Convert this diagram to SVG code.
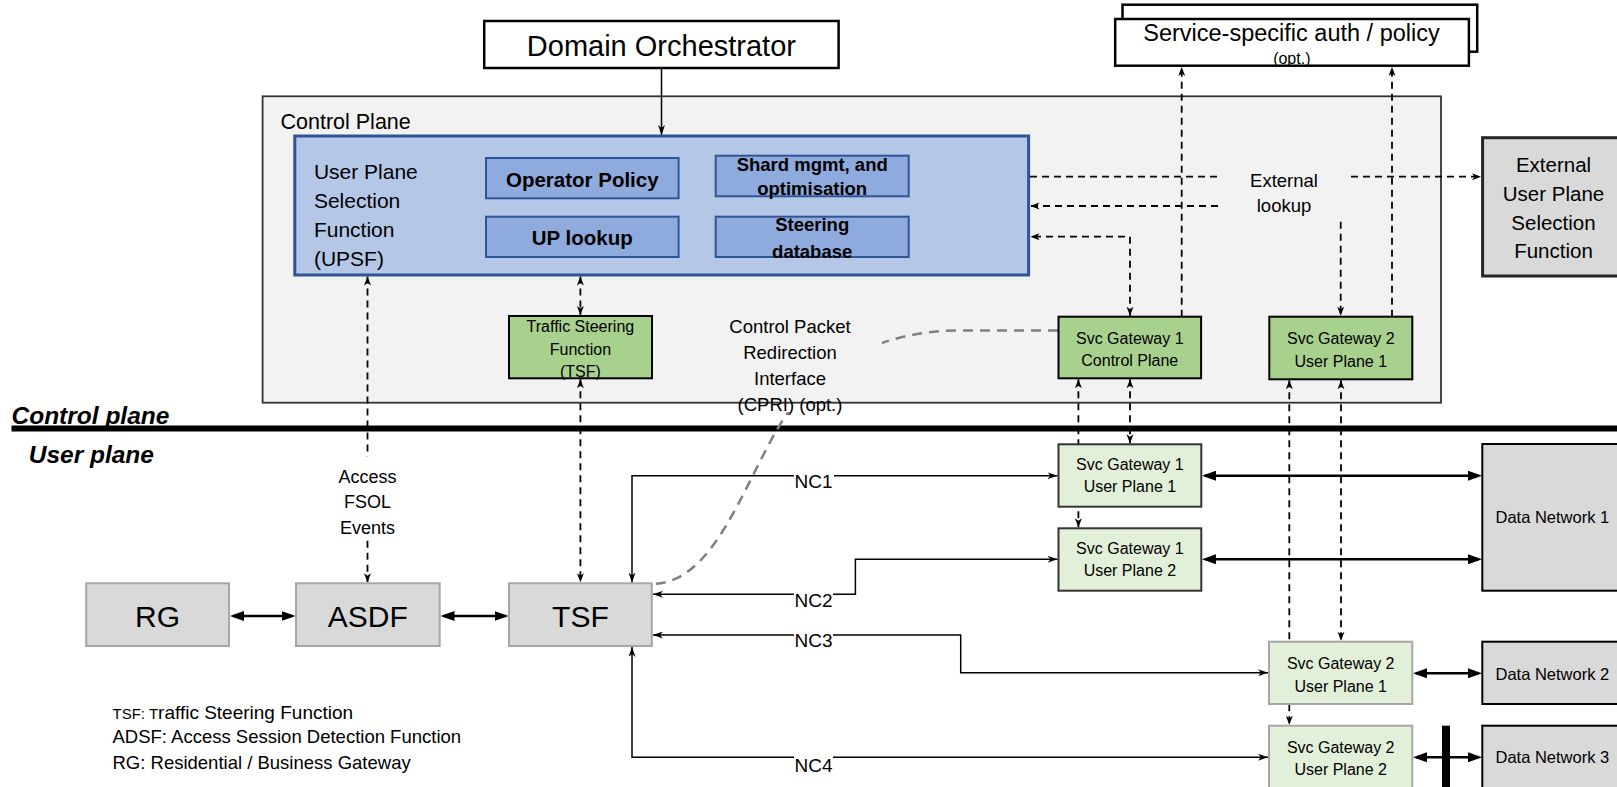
<svg xmlns="http://www.w3.org/2000/svg" width="1617" height="787" viewBox="0 0 1617 787">
  <defs>
    <style>
      text { font-family: "Liberation Sans", Arial, sans-serif; fill: #000; }
      .c { text-anchor: middle; }
      .b { font-weight: bold; }
      .bi { font-weight: bold; font-style: italic; }
      .cpbox { fill: #f2f2f2; stroke: #333; stroke-width: 1.8; }
      .upsf { fill: #b4c7e7; stroke: #2f5597; stroke-width: 3; }
      .mod { fill: #8faadc; stroke: #2f5597; stroke-width: 2; }
      .gcp { fill: #a9d18e; stroke: #000; stroke-width: 2; }
      .gup { fill: #e2f0d9; stroke: #333; stroke-width: 2; }
      .gup2 { fill: #e2f0d9; stroke: #a6a6a6; stroke-width: 2; }
      .grey { fill: #d9d9d9; stroke: #a6a6a6; stroke-width: 2; }
      .dn { fill: #d9d9d9; stroke: #000; stroke-width: 2; }
      .ext { fill: #d9d9d9; stroke: #262626; stroke-width: 3; }
      .wbox { fill: #fff; stroke: #000; stroke-width: 2.5; }
      .dash { fill: none; stroke: #000; stroke-width: 1.8; stroke-dasharray: 7 5; }
      .thin { fill: none; stroke: #000; stroke-width: 1.5; }
      .thick { fill: none; stroke: #000; stroke-width: 2.5; }
      .cpri { fill: none; stroke: #808080; stroke-width: 2.5; stroke-dasharray: 10 7; }
      .gw { font-size: 16px; }
      .lbl { font-size: 18.5px; }
      .nc { font-size: 19px; }
      .bg { fill: #fff; }
    </style>
    <marker id="mDash" viewBox="0 0 9 8" refX="9" refY="4" markerWidth="9" markerHeight="8" markerUnits="userSpaceOnUse" orient="auto-start-reverse">
      <path d="M0,0.5 L9,4 L0,7.5 L2.5,4 z" fill="#000"/>
    </marker>
    <marker id="mThin" viewBox="0 0 10 7" refX="10" refY="3.5" markerWidth="10" markerHeight="7" markerUnits="userSpaceOnUse" orient="auto-start-reverse">
      <path d="M0,0 L10,3.5 L0,7 L3,3.5 z" fill="#000"/>
    </marker>
    <marker id="mThick" viewBox="0 0 14 10" refX="11" refY="5" markerWidth="14" markerHeight="10" markerUnits="userSpaceOnUse" orient="auto-start-reverse">
      <path d="M0,0 L14,5 L0,10 z" fill="#000"/>
    </marker>
    <!-- hides the CPRI curve where it runs under its own label -->
    <mask id="cpriGap" maskUnits="userSpaceOnUse" x="0" y="0" width="1617" height="787">
      <rect x="0" y="0" width="1617" height="787" fill="#fff"/>
      <rect x="690" y="300" width="192" height="112" fill="#000"/>
    </mask>
  </defs>

  <rect x="0" y="0" width="1617" height="787" fill="#fff"/>

  <!-- control plane container -->
  <g id="control-plane">
    <rect class="cpbox" x="262.6" y="96.3" width="1178.4" height="306.4"/>
    <text x="280.5" y="129.3" font-size="21.5">Control Plane</text>
  </g>

  <!-- control / user plane divider -->
  <g id="plane-divider">
    <text class="bi" x="11.5" y="424" font-size="24.5">Control plane</text>
    <rect x="11.5" y="425.5" width="1605.5" height="6" fill="#000"/>
    <text class="bi" x="28.7" y="463.3" font-size="24.5">User plane</text>
  </g>

  <g id="connectors">
    <!-- orchestrator to UPSF -->
    <path class="thin" d="M661.5 68 V135" marker-end="url(#mThin)"/>
    <!-- optional service auth / policy -->
    <path class="dash" d="M1181.7 316.7 V67" marker-end="url(#mDash)"/>
    <path class="dash" d="M1392 316.7 V67" marker-end="url(#mDash)"/>
    <!-- external lookup -->
    <path class="dash" d="M1030 176.7 H1218"/>
    <path class="dash" d="M1351 176.7 H1481" marker-end="url(#mDash)"/>
    <path class="dash" d="M1218 206 H1030.5" marker-end="url(#mDash)"/>
    <path class="dash" d="M1130 315.7 V236.7 H1030.5" marker-start="url(#mDash)" marker-end="url(#mDash)"/>
    <path class="dash" d="M1340.7 221.7 V315.7" marker-end="url(#mDash)"/>
    <text class="c lbl" x="1284" y="186.7">External</text>
    <text class="c lbl" x="1284" y="211.7">lookup</text>
    <!-- UPSF to TSF (control) -->
    <path class="dash" d="M580.4 276.5 V315" marker-start="url(#mDash)" marker-end="url(#mDash)"/>
    <!-- TSF (control) to TSF (user) -->
    <path class="dash" d="M580.4 379.3 V582.3" marker-start="url(#mDash)" marker-end="url(#mDash)"/>
    <!-- UPSF to ASDF, access FSOL events -->
    <path class="dash" d="M367.5 276.5 V456.7" marker-start="url(#mDash)"/>
    <path class="dash" d="M367.5 540.7 V582.3" marker-end="url(#mDash)"/>
    <text class="c" x="367.5" y="483.3" font-size="18">Access</text>
    <text class="c" x="367.5" y="508.3" font-size="18">FSOL</text>
    <text class="c" x="367.5" y="534.3" font-size="18">Events</text>
    <!-- gateway 1 control to user planes -->
    <path class="dash" d="M1078.4 379.3 V527.3" marker-start="url(#mDash)" marker-end="url(#mDash)"/>
    <path class="dash" d="M1130 379.3 V443.3" marker-start="url(#mDash)" marker-end="url(#mDash)"/>
    <!-- gateway 2 control to user planes -->
    <path class="dash" d="M1289.3 380.3 V724.7" marker-start="url(#mDash)" marker-end="url(#mDash)"/>
    <path class="dash" d="M1341 380.3 V640.7" marker-start="url(#mDash)" marker-end="url(#mDash)"/>
    <!-- CPRI (optional) -->
    <path class="cpri" mask="url(#cpriGap)" d="M1058 330.5 L960 330.5 C880 330.5 815 365 778 428 S712 584 652 584"/>
    <text class="c lbl" x="790" y="333.3">Control Packet</text>
    <text class="c lbl" x="790" y="359">Redirection</text>
    <text class="c lbl" x="790" y="385">Interface</text>
    <text class="c lbl" x="790" y="410.7">(CPRI) (opt.)</text>
    <!-- network connections NC1..NC4 -->
    <path class="thin" d="M1057.5 475.7 H632 V582.5" marker-start="url(#mThin)" marker-end="url(#mThin)"/>
    <path class="thin" d="M1057.5 559.3 H855.4 V594.3 H653" marker-start="url(#mThin)" marker-end="url(#mThin)"/>
    <path class="thin" d="M653 635 H960.7 V672.7 H1268" marker-start="url(#mThin)" marker-end="url(#mThin)"/>
    <path class="thin" d="M632 647 V757.3 H1268" marker-start="url(#mThin)" marker-end="url(#mThin)"/>
    <rect class="bg" x="794" y="472" width="40" height="20"/>
    <text class="c nc" x="813.5" y="488.3">NC1</text>
    <rect class="bg" x="794" y="589" width="39" height="21"/>
    <text class="c nc" x="813.5" y="606.7">NC2</text>
    <rect class="bg" x="794" y="630" width="39" height="20"/>
    <text class="c nc" x="813.5" y="646.7">NC3</text>
    <rect class="bg" x="794" y="752" width="39" height="22"/>
    <text class="c nc" x="813.5" y="771.7">NC4</text>
    <!-- access chain -->
    <path class="thick" d="M233 616 H292.5" marker-start="url(#mThick)" marker-end="url(#mThick)"/>
    <path class="thick" d="M443.5 616 H505.5" marker-start="url(#mThick)" marker-end="url(#mThick)"/>
    <!-- gateways to data networks -->
    <path class="thick" d="M1205 475.7 H1479" marker-start="url(#mThick)" marker-end="url(#mThick)"/>
    <path class="thick" d="M1205 559.3 H1479" marker-start="url(#mThick)" marker-end="url(#mThick)"/>
    <path class="thick" d="M1416 673.3 H1479" marker-start="url(#mThick)" marker-end="url(#mThick)"/>
    <path class="thick" d="M1416 757.3 H1479" marker-start="url(#mThick)" marker-end="url(#mThick)"/>
    <rect x="1442" y="725.7" width="8" height="62" fill="#000"/>
  </g>

  <g id="domain-orchestrator">
    <rect class="wbox" x="484.2" y="21" width="354.4" height="47"/>
    <text class="c" x="661.4" y="56" font-size="29">Domain Orchestrator</text>
  </g>

  <g id="service-auth-policy">
    <rect class="wbox" x="1122.5" y="4.7" width="354.7" height="47"/>
    <rect class="wbox" x="1115.2" y="19" width="353.7" height="46.7"/>
    <text class="c" x="1291.5" y="40.7" font-size="23.5">Service-specific auth / policy</text>
    <text class="c" x="1291.8" y="63.5" font-size="16">(opt.)</text>
  </g>

  <g id="upsf">
    <rect class="upsf" x="294.8" y="136" width="733.8" height="139"/>
    <text x="313.9" y="179.3" font-size="21">User Plane</text>
    <text x="313.9" y="208.3" font-size="21">Selection</text>
    <text x="313.9" y="236.7" font-size="21">Function</text>
    <text x="313.9" y="265.7" font-size="21">(UPSF)</text>
  </g>

  <g id="operator-policy">
    <rect class="mod" x="486" y="158" width="192.6" height="40.3"/>
    <text class="c b" x="582.3" y="187.3" font-size="20.5">Operator Policy</text>
  </g>

  <g id="up-lookup">
    <rect class="mod" x="486" y="216.7" width="192.6" height="40.3"/>
    <text class="c b" x="582.3" y="245" font-size="20.5">UP lookup</text>
  </g>

  <g id="shard-mgmt">
    <rect class="mod" x="715.7" y="155.7" width="193" height="40.6"/>
    <text class="c b" x="812.2" y="170.7" font-size="18.5">Shard mgmt, and</text>
    <text class="c b" x="812.2" y="195" font-size="18.5">optimisation</text>
  </g>

  <g id="steering-db">
    <rect class="mod" x="715.7" y="216.7" width="193" height="40.3"/>
    <text class="c b" x="812.2" y="231" font-size="18.5">Steering</text>
    <text class="c b" x="812.2" y="258.3" font-size="18.5">database</text>
  </g>

  <g id="external-upsf">
    <rect class="ext" x="1482.6" y="137.7" width="160" height="138.3"/>
    <text class="c" x="1553.5" y="172.3" font-size="20.5">External</text>
    <text class="c" x="1553.5" y="201" font-size="20.5">User Plane</text>
    <text class="c" x="1553.5" y="230" font-size="20.5">Selection</text>
    <text class="c" x="1553.5" y="258.3" font-size="20.5">Function</text>
  </g>

  <g id="tsf-control">
    <rect class="gcp" x="509" y="316" width="143" height="62.3"/>
    <text class="c gw" x="580.4" y="331.7">Traffic Steering</text>
    <text class="c gw" x="580.4" y="354.5">Function</text>
    <text class="c gw" x="580.4" y="376.5">(TSF)</text>
  </g>

  <g id="gw1-control">
    <rect class="gcp" x="1058.5" y="316.7" width="142.6" height="61.6"/>
    <text class="c gw" x="1129.8" y="343.5">Svc Gateway 1</text>
    <text class="c gw" x="1129.8" y="366">Control Plane</text>
  </g>

  <g id="gw2-control">
    <rect class="gcp" x="1269.3" y="316.7" width="143" height="62.6"/>
    <text class="c gw" x="1340.8" y="344">Svc Gateway 2</text>
    <text class="c gw" x="1340.8" y="366.5">User Plane 1</text>
  </g>

  <g id="gw1-up1">
    <rect class="gup" x="1058.5" y="444.3" width="142.8" height="62.4"/>
    <text class="c gw" x="1129.9" y="470">Svc Gateway 1</text>
    <text class="c gw" x="1129.9" y="492.3">User Plane 1</text>
  </g>

  <g id="gw1-up2">
    <rect class="gup" x="1058.5" y="528.3" width="142.8" height="62.4"/>
    <text class="c gw" x="1129.9" y="554">Svc Gateway 1</text>
    <text class="c gw" x="1129.9" y="575.7">User Plane 2</text>
  </g>

  <g id="gw2-up1">
    <rect class="gup2" x="1269" y="641.7" width="143.3" height="62.3"/>
    <text class="c gw" x="1340.7" y="669.3">Svc Gateway 2</text>
    <text class="c gw" x="1340.7" y="691.7">User Plane 1</text>
  </g>

  <g id="gw2-up2">
    <rect class="gup2" x="1269" y="725.7" width="143.3" height="63"/>
    <text class="c gw" x="1340.7" y="753.3">Svc Gateway 2</text>
    <text class="c gw" x="1340.7" y="775">User Plane 2</text>
  </g>

  <g id="data-network-1">
    <rect class="dn" x="1482.3" y="444" width="160" height="146.7"/>
    <text x="1495.5" y="523.3" font-size="16.5">Data Network 1</text>
  </g>

  <g id="data-network-2">
    <rect class="dn" x="1482.3" y="641.7" width="160" height="62.3"/>
    <text x="1495.5" y="680" font-size="16.5">Data Network 2</text>
  </g>

  <g id="data-network-3">
    <rect class="dn" x="1482.3" y="725.7" width="160" height="63"/>
    <text x="1495.5" y="763.3" font-size="16.5">Data Network 3</text>
  </g>

  <g id="rg">
    <rect class="grey" x="86.2" y="583.3" width="142.8" height="62.7"/>
    <text class="c" x="157.6" y="627.3" font-size="30">RG</text>
  </g>

  <g id="asdf">
    <rect class="grey" x="296" y="583.3" width="143.7" height="62.7"/>
    <text class="c" x="367.8" y="627.3" font-size="30">ASDF</text>
  </g>

  <g id="tsf">
    <rect class="grey" x="509" y="583.3" width="142.8" height="62.7"/>
    <text class="c" x="580.4" y="627.3" font-size="30">TSF</text>
  </g>

  <g id="legend">
    <text x="112.5" y="719"><tspan font-size="15">TSF: T</tspan><tspan font-size="19">raffic Steering Function</tspan></text>
    <text x="112.5" y="743.3" font-size="18.5">ADSF: Access Session Detection Function</text>
    <text x="112.5" y="769.3" font-size="18.5">RG: Residential / Business Gateway</text>
  </g>
</svg>
